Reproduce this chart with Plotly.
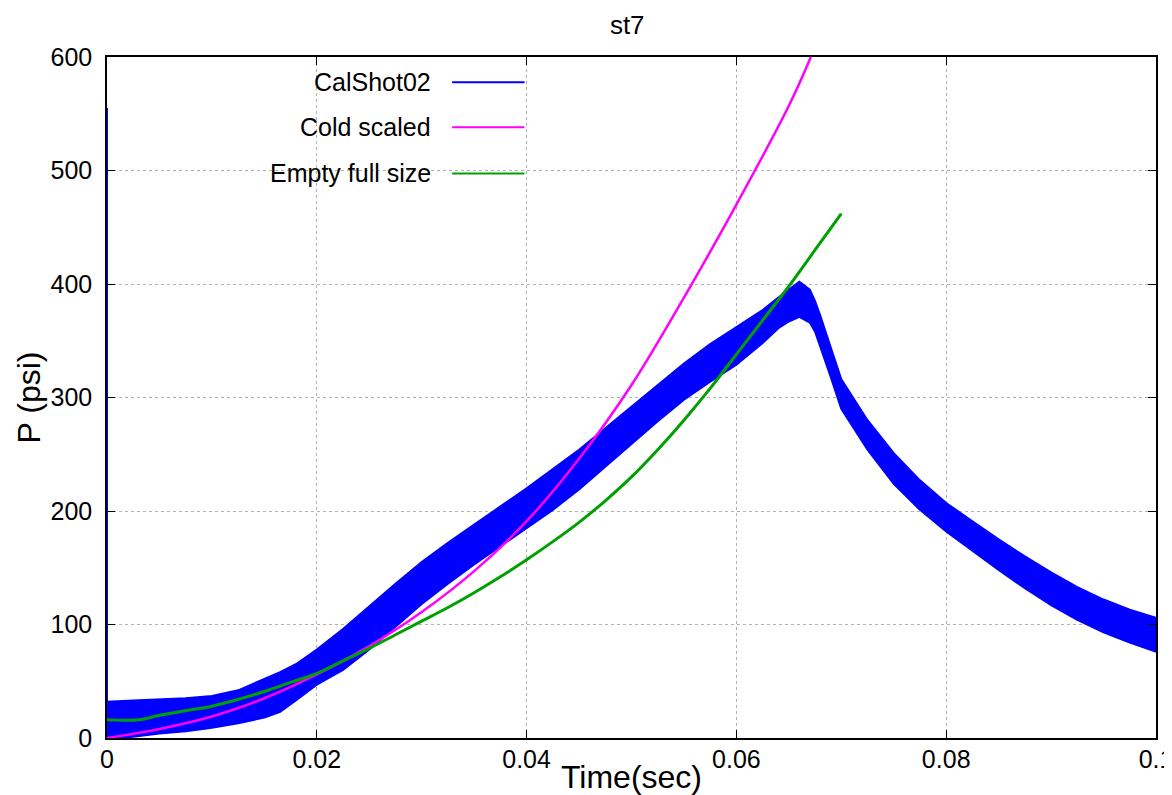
import plotly.graph_objects as go

# ---- data ----
# CalShot02: noisy band, given as its lower / upper envelope (psi)
t_band = [0, 0, 0.0025, 0.005, 0.0075, 0.01, 0.0125, 0.015, 0.0165, 0.018, 0.02,
          0.0225, 0.025, 0.0275, 0.03, 0.0325, 0.035, 0.0375, 0.04, 0.0425, 0.045,
          0.0475, 0.05, 0.0525, 0.055, 0.0575, 0.06, 0.0625, 0.064, 0.065, 0.066,
          0.067, 0.0675, 0.068, 0.069, 0.07, 0.0725, 0.075, 0.0775, 0.08, 0.0825,
          0.085, 0.0875, 0.09, 0.0925, 0.095, 0.0975, 0.1]
cal_upper = [555, 32, 33, 34, 35, 37, 42, 52, 58, 65, 78,
             96, 116, 136, 155, 172, 188, 204, 220, 237, 254,
             273, 292, 311, 330, 347, 362, 377, 388, 395, 402,
             395, 385, 372, 345, 316, 280, 251, 227, 207, 191,
             175, 160, 146, 133, 122, 113, 106]
cal_lower = [0, 0, 1, 4, 6, 9, 13, 18, 23, 33, 47,
             60, 78, 98, 118, 136, 153, 169, 185, 201, 219,
             239, 259, 279, 298, 314, 329, 348, 361, 367, 371,
             366, 358, 345, 318, 290, 254, 224, 201, 182, 165,
             148, 132, 117, 104, 93, 84, 76]

# Cold scaled
t_cold = [0, 0.005, 0.01, 0.015, 0.02, 0.025, 0.03, 0.035, 0.04, 0.045, 0.05,
          0.055, 0.06, 0.065, 0.0671]
p_cold = [0, 8, 19, 35, 56, 81, 111, 147, 191, 246, 311, 388, 470, 557, 600]

# Empty full size
t_empty = [0, 0.003, 0.005, 0.0075, 0.01, 0.0125, 0.015, 0.0175, 0.02, 0.0225,
           0.025, 0.0275, 0.03, 0.0325, 0.035, 0.0375, 0.04, 0.0425, 0.045, 0.0475,
           0.05, 0.0525, 0.055, 0.0575, 0.06, 0.0625, 0.065, 0.0675, 0.07]
p_empty = [16, 16, 20, 24, 28, 34, 41, 49, 57, 68,
           79, 91, 103, 115, 128, 142, 157, 173, 190, 209,
           230, 254, 280, 308, 338, 368, 398, 430, 462]

series_names = ["CalShot02", "Cold scaled", "Empty full size"]
series_colors = ["#0000ff", "#ff00ff", "#00a000"]

x_ticks = [0, 0.02, 0.04, 0.06, 0.08, 0.1]
y_ticks = [0, 100, 200, 300, 400, 500, 600]

FONT = "Liberation Sans, Arial, sans-serif"

fig = go.Figure()

# blue band polygon: upper forward, lower backward
poly_t = t_band + t_band[::-1]
poly_p = cal_upper + cal_lower[::-1]
fig.add_trace(go.Scatter(
    x=poly_t, y=poly_p, mode="lines", fill="toself",
    fillcolor=series_colors[0], line=dict(color=series_colors[0], width=2),
    name=series_names[0], hoverinfo="skip"))

fig.add_trace(go.Scatter(
    x=t_cold, y=p_cold, mode="lines", line=dict(color=series_colors[1], width=2.5, shape="spline"),
    name=series_names[1]))

fig.add_trace(go.Scatter(
    x=t_empty, y=p_empty, mode="lines", line=dict(color=series_colors[2], width=3, shape="spline"),
    name=series_names[2]))

# gnuplot-style key: text right-aligned, line sample on the right
legend_y = [0.963, 0.897, 0.829]
for name, col, ly in zip(series_names, series_colors, legend_y):
    fig.add_annotation(x=0.311, y=ly, xref="paper", yref="paper", text=name,
                       showarrow=False, xanchor="right", yanchor="middle",
                       font=dict(family=FONT, size=25, color="black"))
    fig.add_shape(type="line", xref="paper", yref="paper",
                  x0=0.329, x1=0.398, y0=ly, y1=ly,
                  line=dict(color=col, width=2))

axis_common = dict(
    showline=True, linecolor="black", linewidth=1.5, mirror="allticks",
    ticks="inside", ticklen=8, tickcolor="black", tickwidth=1,
    showgrid=True, gridcolor="#b0b0b0", griddash="dot", gridwidth=1,
    zeroline=False, automargin=False, ticklabeloverflow="allow",
    tickfont=dict(family=FONT, size=25, color="black"),
)

# the page body adds an 8px offset, so the figure is sized 8px smaller
fig.update_layout(
    width=1164, height=787,
    margin=dict(l=99, r=16, t=49, b=57),
    paper_bgcolor="white", plot_bgcolor="white",
    showlegend=False,
    title=dict(text="st7", x=0.532, xanchor="center", y=0.978, yanchor="middle",
               automargin=False,
               font=dict(family=FONT, size=26, color="black")),
    xaxis=dict(range=[0, 0.1], tickvals=x_ticks,
               ticktext=[("%g" % v) for v in x_ticks],
               ticklabelstandoff=-2,
               title=dict(text="Time(sec)", standoff=2,
                          font=dict(family=FONT, size=32, color="black")),
               **axis_common),
    yaxis=dict(range=[0, 600], tickvals=y_ticks,
               ticklabelstandoff=8,
               title=dict(text="P (psi)", standoff=0,
                          font=dict(family=FONT, size=32, color="black")),
               **axis_common),
)

fig.write_html("out.html")
